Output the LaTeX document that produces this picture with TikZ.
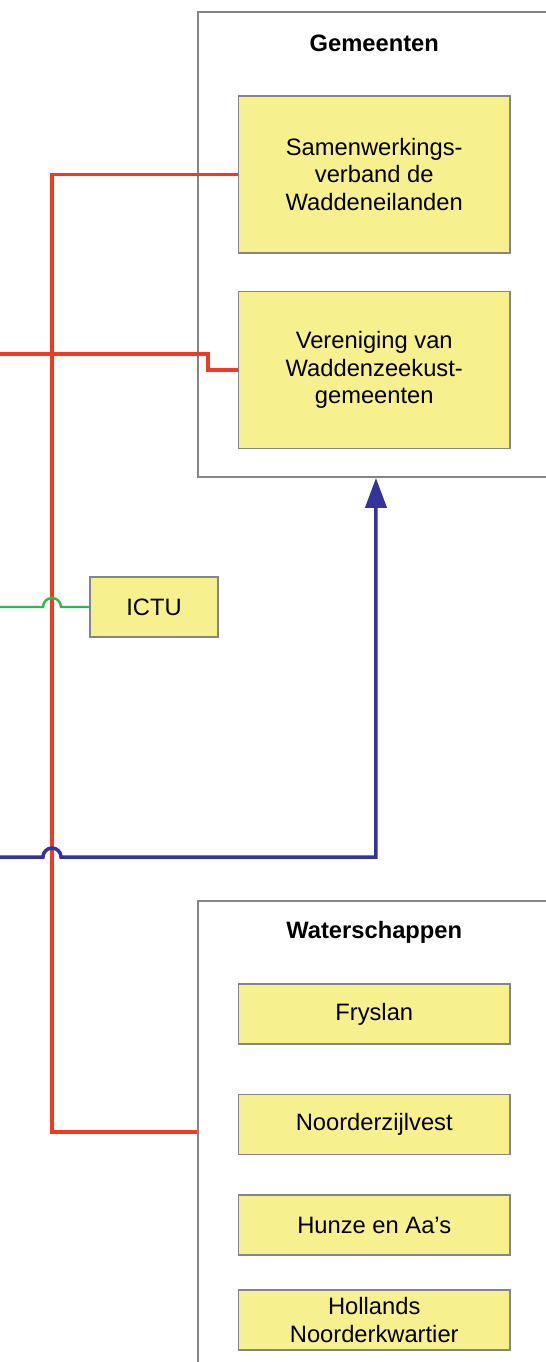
\documentclass[tikz,border=0pt]{standalone}
\usepackage{fontspec}
\setmainfont{Liberation Sans}
\usepackage{xcolor}
\usepackage{tikz}
\usetikzlibrary{
    arrows.meta,
    positioning,
    calc
}
\definecolor{orgyellow}{HTML}{F7F08E}
\definecolor{orggray}{HTML}{858585}
\definecolor{orgred}{HTML}{EE3B24}
\definecolor{orgblue}{HTML}{35339A}
\definecolor{orggreen}{HTML}{30B850}
\tikzset{
    % Outer group box
    groupbox/.style={
        rectangle,
        draw=orggray,
        fill=white,
        line width=1.1pt,
        minimum width=7.26cm,
        inner sep=0pt
    },
    % Group title
    grouptitle/.style={
        font=\fontsize{13.5}{15.7}\selectfont\bfseries,
        inner sep=0pt
    },
    % Organisation box
    orgbox/.style={
        rectangle,
        draw=orggray,
        fill=orgyellow,
        line width=0.9pt,
        minimum width=5.43cm,
        minimum height=1.2cm,
        align=center,
        inner sep=2pt,
        font=\fontsize{13.5}{15.7}\selectfont
    },
    % Connector styles
    redline/.style={
        draw=orgred,
        line width=2pt
    },
    greenline/.style={
        draw=orggreen,
        line width=1.4pt
    },
    blueline/.style={
        draw=orgblue,
        line width=2pt,
        -{Triangle[length=17pt, width=12pt]}
    }
}

\begin{document}
\begin{tikzpicture}
    \useasboundingbox (0,0) rectangle (10.92,-27.24);

    % Gemeenten group
    \node[groupbox, minimum height=9.3cm, anchor=north west] (gemeenten) at (3.94,-0.22) {};
    \node[grouptitle] (gemtitle) at (7.485,-0.86) {Gemeenten};

    % Waterschappen group
    \node[groupbox, minimum height=10cm, anchor=north west] (waterschappen) at (3.94,-18.0) {};
    \node[grouptitle] (wattitle) at (7.485,-18.64) {Waterschappen};

    % Gemeenten members
    \node[orgbox, minimum height=3.14cm] (samen) at (7.485,-3.49) {Samenwerkings-\\verband de\\Waddeneilanden};
    \node[orgbox, minimum height=3.14cm, below=0.74cm of samen] (vereniging) {Vereniging van\\Waddenzeekust-\\gemeenten};

    % ICTU
    \node[orgbox, minimum width=2.56cm] (ictu) at (3.08,-12.14) {ICTU};

    % Waterschappen members
    \node[orgbox] (fryslan) at (7.485,-20.28) {Fryslan};
    \node[orgbox, below=0.98cm of fryslan] (noorder) {Noorderzijlvest};
    \node[orgbox, below=0.78cm of noorder] (hunze) {Hunze en Aa's};
    \node[orgbox, below=0.66cm of hunze] (hollands) {Hollands\\Noorderkwartier};

    % Free ends on the left edge
    \coordinate (redin) at (0,-7.08);
    \coordinate (greenin) at (0,-12.14);
    \coordinate (bluein) at (0,-17.14);
    \coordinate (trunk) at (1.04,-22.64);

    % Red trunk from Samenwerkingsverband down to Waterschappen
    \draw[redline] (samen.west) -| (trunk) -- (trunk -| waterschappen.west);

    % Red line into Vereniging
    \draw[redline] (redin) -- ++(4.16,0) |- (vereniging.west);

    % Green line to ICTU, hopping over the trunk
    \draw[greenline] (greenin) -- ++(0.86,0) arc[start angle=180, end angle=0, radius=0.18] -- (ictu.west);

    % Blue arrow up to Gemeenten, hopping over the trunk
    \draw[blueline] (bluein) -- ++(0.86,0) arc[start angle=180, end angle=0, radius=0.18] -| ([xshift=-0.07cm]gemeenten.south);

\end{tikzpicture}
\end{document}
